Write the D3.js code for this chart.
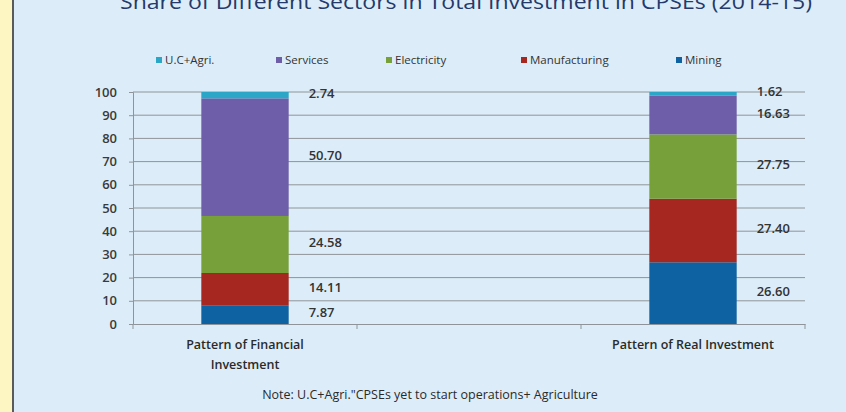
<!DOCTYPE html>
<html>
<head>
<meta charset="utf-8">
<script src="https://cdn.jsdelivr.net/npm/d3@7"></script>
<style>
  body { margin: 0; background: #dcedf9; }
  svg { display: block; font-family: "Open Sans", sans-serif; }
</style>
</head>
<body>
<svg width="846" height="412"></svg>
<script>
var categories = ['Pattern of Financial Investment', '', 'Pattern of Real Investment']
var barCategories = ['Pattern of Financial Investment', 'Pattern of Real Investment']

var mining = [7.87, 26.60]
var manufacturing = [14.11, 27.40]
var electricity = [24.58, 27.75]
var services = [50.70, 16.63]
var ucAgri = [2.74, 1.62]

var yTicks = [0, 10, 20, 30, 40, 50, 60, 70, 80, 90, 100]

var legendNames = ['U.C+Agri.', 'Services', 'Electricity', 'Manufacturing', 'Mining']
var title = 'Share of Different Sectors in Total Investment in CPSEs (2014-15)'
var note = 'Note: U.C+Agri."CPSEs yet to start operations+ Agriculture'

var keys = ['Mining', 'Manufacturing', 'Electricity', 'Services', 'U.C+Agri.']
var cols = {
  'Mining': '#0f62a1',
  'Manufacturing': '#a52720',
  'Electricity': '#77a03b',
  'Services': '#6e5ea9',
  'U.C+Agri.': '#2ba6c6'
}

var rows = barCategories.map(function (c, i) {
  return {
    cat: c,
    'Mining': mining[i],
    'Manufacturing': manufacturing[i],
    'Electricity': electricity[i],
    'Services': services[i],
    'U.C+Agri.': ucAgri[i]
  }
})

var svg = d3.select('svg')

// page frame: yellow strip + dark rule on the left
svg.append('rect').attr('x', 0).attr('y', 0).attr('width', 12).attr('height', 412).style('fill', '#fdf5c2')
svg.append('rect').attr('x', 12).attr('y', 0).attr('width', 2).attr('height', 412).style('fill', '#5a5a5a')

// title, clipped by the top of the picture (as in the source image)
svg.append('text')
  .attr('x', 120).attr('y', 9)
  .attr('textLength', 692).attr('lengthAdjust', 'spacingAndGlyphs')
  .style('font-size', '20px')
  .style('fill', '#243a6b')
  .text(title)

var x = d3.scaleBand()
  .domain(categories)
  .range([133, 805])

var y = d3.scaleLinear()
  .domain([0, 100])
  .range([324, 92])

var barW = x.bandwidth() * 0.39

// grid lines
svg.append('g')
  .selectAll('line')
  .data(yTicks.slice(1))
  .enter()
  .append('line')
  .attr('x1', 133).attr('x2', 805)
  .attr('y1', function (d) { return y(d) })
  .attr('y2', function (d) { return y(d) })
  .style('stroke', '#8e9499')
  .style('stroke-width', 1)

// y axis
var yAxis = svg.append('g')
  .attr('transform', 'translate(133,0)')
  .call(d3.axisLeft(y).tickValues(yTicks).tickSize(4).tickPadding(12))
yAxis.select('.domain').style('stroke', '#8e9499')
yAxis.selectAll('line').style('stroke', '#8e9499')
yAxis.selectAll('text')
  .style('font-size', '13px')
  .style('font-weight', '600')
  .style('fill', '#3a3a3a')
  .style('font-family', '"Open Sans", sans-serif')

// x axis
var xAxis = svg.append('g')
  .attr('transform', 'translate(0,324)')
  .call(d3.axisBottom(x).tickSize(0).tickFormat(''))
xAxis.select('.domain').style('stroke', '#8e9499')
xAxis.selectAll('.tick').remove()

svg.append('g')
  .selectAll('line')
  .data(d3.range(categories.length + 1))
  .enter()
  .append('line')
  .attr('x1', function (d) { return 133 + d * x.step() })
  .attr('x2', function (d) { return 133 + d * x.step() })
  .attr('y1', 324).attr('y2', 329)
  .style('stroke', '#8e9499')

// stacked bars
var series = d3.stack().keys(keys)(rows)

var layer = svg.selectAll('g.layer')
  .data(series)
  .enter()
  .append('g')
  .attr('class', 'layer')
  .style('fill', function (d) { return cols[d.key] })

layer.selectAll('rect')
  .data(function (d) { return d })
  .enter()
  .append('rect')
  .attr('x', function (d) { return x(d.data.cat) + x.bandwidth() / 2 - barW / 2 })
  .attr('width', barW)
  .attr('y', function (d) { return y(d[1]) })
  .attr('height', function (d) { return y(d[0]) - y(d[1]) })

// value labels to the right of each bar
layer.selectAll('text')
  .data(function (d) { return d })
  .enter()
  .append('text')
  .attr('x', function (d) { return x(d.data.cat) + x.bandwidth() / 2 + barW / 2 + 20 })
  .attr('y', function (d) { return y((d[0] + d[1]) / 2) })
  .attr('dy', '0.2em')
  .style('font-size', '13px')
  .style('font-weight', '600')
  .style('fill', '#333')
  .text(function (d) { return d3.format('.2f')(d[1] - d[0]) })

// category labels
svg.append('g')
  .selectAll('text')
  .data(barCategories)
  .enter()
  .append('text')
  .attr('x', function (d) { return x(d) + x.bandwidth() / 2 })
  .attr('y', 349)
  .attr('text-anchor', 'middle')
  .style('font-size', '12.5px')
  .style('font-weight', '600')
  .style('fill', '#2a2a2a')
  .each(function (d) {
    var t = d3.select(this)
    var words = d.split(' ')
    var line = []
    var lines = []
    words.forEach(function (w) {
      line.push(w)
      if (line.join(' ').length > 27) {
        line.pop()
        lines.push(line.join(' '))
        line = [w]
      }
    })
    lines.push(line.join(' '))
    lines.forEach(function (l, i) {
      t.append('tspan')
        .attr('x', x(d) + x.bandwidth() / 2)
        .attr('dy', i === 0 ? 0 : 20)
        .text(l)
    })
  })

// legend
var legOffs = [0, 120, 230, 365, 520]

var leg = svg.append('g')
  .selectAll('g')
  .data(legendNames)
  .enter()
  .append('g')
  .attr('transform', function (d, i) {
    return 'translate(' + (156 + legOffs[i]) + ',60)'
  })

leg.append('rect')
  .attr('x', 0).attr('y', -3)
  .attr('width', 6).attr('height', 6)
  .style('fill', function (d) { return cols[d] })

leg.append('text')
  .attr('x', 9).attr('y', 4)
  .style('font-size', '11.5px')
  .style('fill', '#333')
  .text(function (d) { return d })

// note
svg.append('text')
  .attr('x', 430).attr('y', 399)
  .attr('text-anchor', 'middle')
  .style('font-size', '12.5px')
  .style('fill', '#2a2a2a')
  .text(note)
</script>
</body>
</html>
